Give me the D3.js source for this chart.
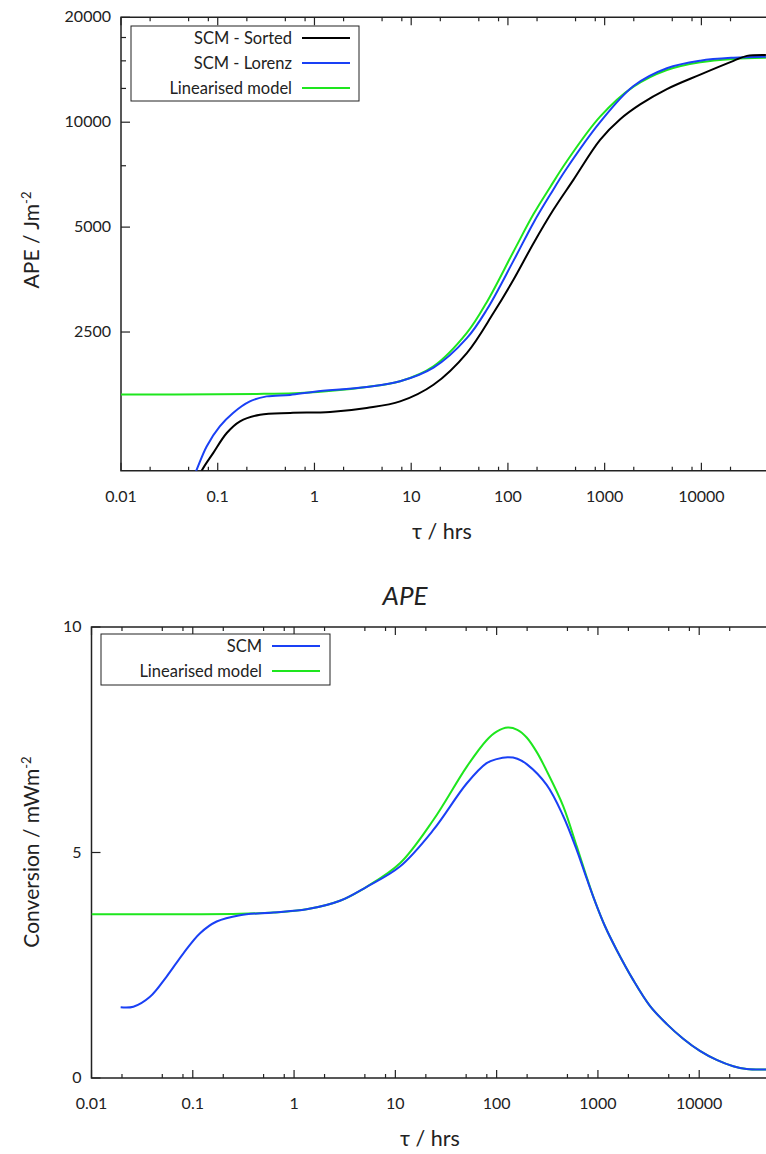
<!DOCTYPE html>
<html>
<head>
<meta charset="utf-8">
<script src="https://cdn.jsdelivr.net/npm/d3@7"></script>
<style>
  body { margin: 0; background: #fff; }
  svg text { font-family: Lato, "Open Sans", sans-serif; fill: #222; }
</style>
</head>
<body>
<script>
// ---- data: top panel (APE) ----
var tauSorted = [0.055, 0.0683, 0.090, 0.124, 0.170, 0.274, 0.56, 1.45, 3.47, 7.68, 17, 37.6, 70.8, 114, 184, 295, 475, 897, 1446, 2329, 4397, 9727, 21500, 29570, 46450];
var apeSorted = [870, 1000, 1125, 1283, 1386, 1448, 1465, 1474, 1514, 1581, 1765, 2176, 2834, 3531, 4496, 5606, 6834, 8900, 10200, 11250, 12450, 13700, 15000, 15500, 15600];

var tauLorenz = [0.05, 0.06, 0.0768, 0.105, 0.144, 0.215, 0.32, 0.56, 1.0, 3.47, 7.68, 17, 37.6, 60.6, 114, 184, 274, 403, 897, 1988, 4397, 9727, 21500, 46450];
var apeLorenz = [890, 1000, 1174, 1340, 1465, 1581, 1634, 1650, 1685, 1739, 1805, 1975, 2400, 2900, 4000, 5150, 6200, 7350, 10000, 12700, 14285, 15015, 15316, 15420];

var tauLinTop = [0.01, 0.1, 0.3, 0.71, 3.47, 7.68, 17, 37.6, 60.6, 114, 184, 274, 403, 897, 1988, 4397, 9727, 21500, 46450];
var apeLinear = [1655, 1656, 1662, 1671, 1739, 1805, 1992, 2484, 3050, 4250, 5450, 6520, 7700, 10374, 12650, 14124, 14856, 15190, 15316];

// ---- data: bottom panel (conversion) ----
var tauScm = [0.0194, 0.0259, 0.0378, 0.0552, 0.0805, 0.118, 0.172, 0.292, 0.624, 1.33, 2.84, 5.21, 11.1, 23.7, 50.6, 79.6, 100, 129, 160, 198, 312, 454, 617, 773, 934, 1172, 1531, 2236, 3260, 4766, 6950, 10160, 14860, 21680, 29380, 46000];
var convScm = [1.567, 1.58, 1.80, 2.25, 2.76, 3.21, 3.47, 3.61, 3.67, 3.74, 3.93, 4.24, 4.69, 5.50, 6.53, 6.98, 7.07, 7.11, 7.08, 6.96, 6.50, 5.81, 5.06, 4.43, 3.92, 3.37, 2.84, 2.17, 1.60, 1.20, 0.87, 0.60, 0.40, 0.26, 0.20, 0.19];

var tauLinBot = [0.01, 0.1, 0.292, 0.624, 1.33, 2.84, 5.21, 11.1, 23.7, 50.6, 79.6, 100, 129, 160, 198, 250, 312, 454, 617, 773, 934, 1172, 1531, 2236, 3260, 4766, 6950, 10160, 14860, 21680, 29380, 46000];
var convLinear = [3.63, 3.63, 3.64, 3.67, 3.74, 3.93, 4.24, 4.76, 5.72, 6.90, 7.49, 7.68, 7.77, 7.72, 7.55, 7.22, 6.81, 6.03, 5.14, 4.46, 3.92, 3.37, 2.84, 2.17, 1.60, 1.20, 0.87, 0.60, 0.40, 0.26, 0.20, 0.19];

// ---- ticks ----
var xMajor = [0.01, 0.1, 1, 10, 100, 1000, 10000];
var xMajorLabels = ["0.01", "0.1", "1", "10", "100", "1000", "10000"];
var xMinorMult = [2, 5, 8];
var apeTicks = [20000, 10000, 5000, 2500];
var apeMinor = [17500, 15000, 12500, 7500];
var convTicks = [0, 5, 10];

var black = "#000000", blue = "#1a40f5", green = "#1ee61e";

var svg = d3.select("body")
    .append("svg")
    .attr("width", 766)
    .attr("height", 1154);

// minor ticks list (2,5,8 per decade)
var xMinor = [];
xMajor.forEach(function (d) {
    xMinorMult.forEach(function (m) {
        if (d * m <= 50000) xMinor.push(d * m);
    });
});

function zip(t, v) {
    return t.map(function (d, i) { return { t: d, v: v[i] }; });
}

function drawPanel(opt) {
    var g = svg.append("g");
    var x = d3.scaleLog().domain([0.01, 50000]).range([opt.left, opt.right]);
    var y = opt.y;

    var clipId = "clip" + opt.id;
    svg.append("clipPath").attr("id", clipId)
        .append("rect")
        .attr("x", opt.left).attr("y", opt.top)
        .attr("width", opt.right - opt.left).attr("height", opt.bottom - opt.top);

    // frame: left + bottom + top
    g.append("path")
        .attr("d", "M" + opt.right + "," + opt.top + "H" + opt.left + "V" + opt.bottom + "H" + opt.right)
        .attr("fill", "none").attr("stroke", "#222").attr("stroke-width", 1.5);

    // x ticks bottom & top
    var xt = g.append("g").attr("stroke", "#222").attr("stroke-width", 1.2);
    xMajor.forEach(function (d) {
        xt.append("line").attr("x1", x(d)).attr("x2", x(d)).attr("y1", opt.bottom).attr("y2", opt.bottom - 8);
        xt.append("line").attr("x1", x(d)).attr("x2", x(d)).attr("y1", opt.top).attr("y2", opt.top + 8);
    });
    xMinor.forEach(function (d) {
        xt.append("line").attr("x1", x(d)).attr("x2", x(d)).attr("y1", opt.bottom).attr("y2", opt.bottom - 4);
        xt.append("line").attr("x1", x(d)).attr("x2", x(d)).attr("y1", opt.top).attr("y2", opt.top + 4);
    });
    g.selectAll(".xl").data(xMajor).enter().append("text")
        .attr("x", function (d) { return x(d); })
        .attr("y", opt.bottom + 31)
        .attr("text-anchor", "middle")
        .attr("font-size", 16)
        .text(function (d, i) { return xMajorLabels[i]; });

    // y ticks
    opt.yTicks.forEach(function (d) {
        xt.append("line").attr("x1", opt.left).attr("x2", opt.left + 9).attr("y1", y(d)).attr("y2", y(d));
        g.append("text")
            .attr("x", opt.left - 10)
            .attr("y", y(d) + 5)
            .attr("text-anchor", "end")
            .attr("font-size", 16)
            .text(opt.yFmt(d));
    });
    (opt.yMinor || []).forEach(function (d) {
        xt.append("line").attr("x1", opt.left).attr("x2", opt.left + 5).attr("y1", y(d)).attr("y2", y(d));
    });

    // curves
    var line = d3.line()
        .x(function (d) { return x(d.t); })
        .y(function (d) { return y(d.v); })
        .curve(d3.curveCatmullRom.alpha(0.5));
    var lg = g.append("g").attr("clip-path", "url(#" + clipId + ")");
    opt.series.forEach(function (s) {
        lg.append("path")
            .datum(zip(s.t, s.v))
            .attr("d", line)
            .attr("fill", "none")
            .attr("stroke", s.color)
            .attr("stroke-width", 2);
    });

    // legend
    var L = opt.legend;
    g.append("rect")
        .attr("x", L.x).attr("y", L.y).attr("width", L.w).attr("height", L.h)
        .attr("fill", "#fff").attr("stroke", "#222").attr("stroke-width", 1);
    opt.series.slice().reverse().forEach(function (s, i) {
        var yy = L.y + 12 + i * 25;
        g.append("text")
            .attr("x", L.textEnd).attr("y", yy + 6)
            .attr("text-anchor", "end").attr("font-size", 16.5)
            .text(s.name);
        g.append("line")
            .attr("x1", L.textEnd + 10).attr("x2", L.textEnd + 58)
            .attr("y1", yy).attr("y2", yy)
            .attr("stroke", s.color).attr("stroke-width", 2);
    });

    // axis labels
    g.append("text")
        .attr("x", opt.xLabelX).attr("y", opt.bottom + 68)
        .attr("text-anchor", "middle").attr("font-size", 21.5)
        .text("τ / hrs");
    var yl = g.append("text")
        .attr("transform", "translate(39," + opt.yLabelY + ") rotate(-90)")
        .attr("text-anchor", "middle").attr("font-size", 21);
    yl.append("tspan").text(opt.yLabel);
    yl.append("tspan").attr("dy", -8).attr("font-size", 13).text("-2");
}

// top panel
drawPanel({
    id: "top", left: 121, right: 769, top: 17.3, bottom: 470.7,
    y: d3.scaleLog().domain([1000, 20000]).range([470.7, 17.3]),
    yTicks: apeTicks, yMinor: apeMinor,
    yFmt: function (d) { return String(d); },
    series: [
        { name: "Linearised model", t: tauLinTop, v: apeLinear, color: green },
        { name: "SCM - Lorenz", t: tauLorenz, v: apeLorenz, color: blue },
        { name: "SCM - Sorted", t: tauSorted, v: apeSorted, color: black }
    ],
    legend: { x: 131, y: 26, w: 228, h: 75, textEnd: 292 },
    xLabelX: 442, yLabel: "APE / Jm", yLabelY: 240
});

// bottom panel
drawPanel({
    id: "bot", left: 91.5, right: 770, top: 627, bottom: 1078,
    y: d3.scaleLinear().domain([0, 10]).range([1078, 627]),
    yTicks: convTicks,
    yFmt: function (d) { return String(d); },
    series: [
        { name: "Linearised model", t: tauLinBot, v: convLinear, color: green },
        { name: "SCM", t: tauScm, v: convScm, color: blue }
    ],
    legend: { x: 101, y: 634, w: 229, h: 51, textEnd: 262 },
    xLabelX: 430, yLabel: "Conversion / mWm", yLabelY: 852
});

// panel title between the two charts
svg.append("text")
    .attr("x", 405).attr("y", 605)
    .attr("text-anchor", "middle")
    .attr("font-size", 26)
    .attr("font-style", "italic")
    .text("APE");
</script>
</body>
</html>
